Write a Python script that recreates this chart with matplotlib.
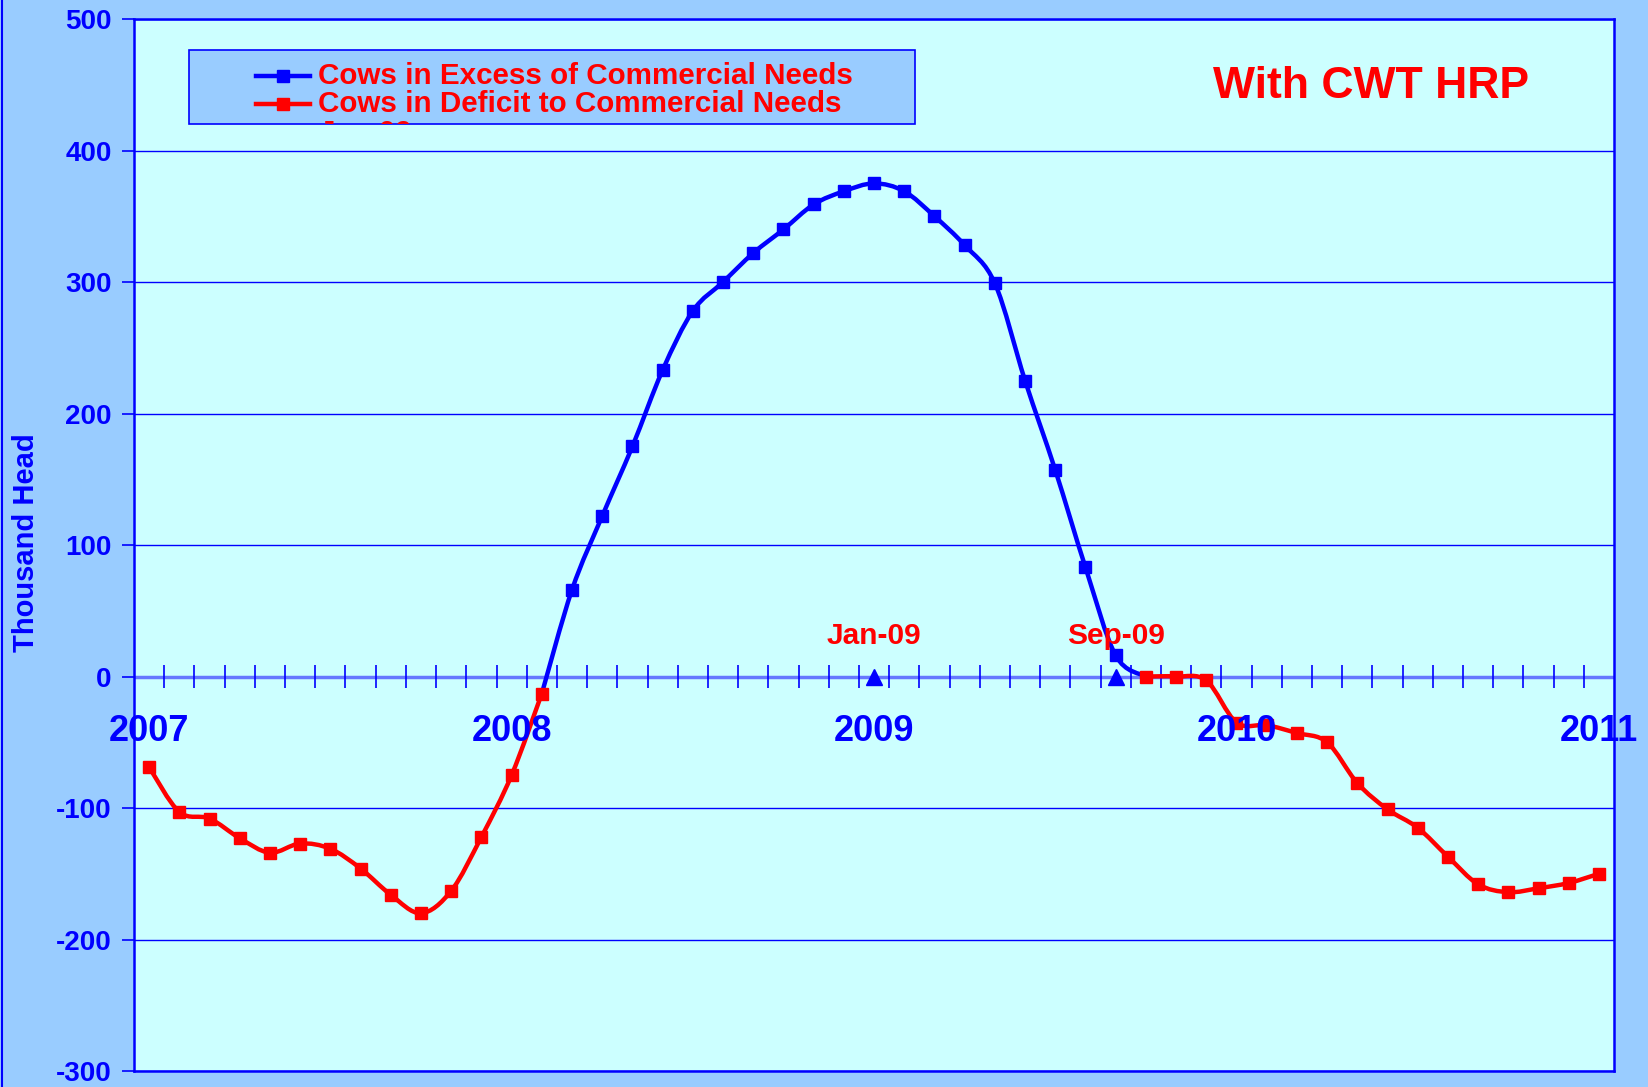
import matplotlib
matplotlib.use("Agg")
import matplotlib.pyplot as plt
from matplotlib.path import Path
from matplotlib.patches import PathPatch, Rectangle
from matplotlib.lines import Line2D
from matplotlib.transforms import Bbox, TransformedBbox
import numpy as np

plt.rcParams['font.family'] = ['Liberation Sans', 'DejaVu Sans']
plt.rcParams['font.weight'] = 'bold'
plt.rcParams['axes.unicode_minus'] = False

# monthly values, Jan-07 .. Jan-11 (thousand head)
months = list(range(49))
deficit_a = [-69, -103, -108, -123, -134, -127, -131, -146, -166, -180, -163, -122, -75, -13]
excess = [-13, 66, 122, 175, 233, 278, 300, 322, 340, 359, 369, 375, 369, 350, 328, 299,
          225, 157, 83, 16, 0]
deficit_b = [0, 0, -3, -35, -37, -43, -50, -81, -101, -115, -137, -158, -164, -161, -157, -150]
idx_a = months[0:14]
idx_ex = months[13:34]
idx_b = months[33:49]
marker_ex = months[14:33]

year_labels = ['2007', '2008', '2009', '2010', '2011']
year_pos = [0, 12, 24, 36, 48]
flag_labels = ['Jan-09', 'Sep-09']
flag_pos = [24, 32]

BLUE = '#0000FF'
RED = '#FF0000'


def smooth_path(xs, ys):
    # excel style smoothed line, bezier through every point
    xs = np.asarray(xs, float)
    ys = np.asarray(ys, float)
    n = len(xs)
    verts = [(xs[0], ys[0])]
    codes = [Path.MOVETO]
    for i in range(n - 1):
        i0 = max(i - 1, 0)
        i3 = min(i + 2, n - 1)
        c1 = (xs[i] + (xs[i + 1] - xs[i0]) / 6, ys[i] + (ys[i + 1] - ys[i0]) / 6)
        c2 = (xs[i + 1] - (xs[i3] - xs[i]) / 6, ys[i + 1] - (ys[i3] - ys[i]) / 6)
        verts += [c1, c2, (xs[i + 1], ys[i + 1])]
        codes += [Path.CURVE4] * 3
    return Path(verts, codes)


fig = plt.figure(figsize=(16.49, 10.87), dpi=100, facecolor='#99CCFF')
ax = fig.add_axes([0.0813, 0.0147, 0.8975, 0.9678])
ax.set_facecolor('#CCFFFF')

ax.set_xlim(-0.5, 48.5)
ax.set_ylim(-300, 500)
ax.set_yticks(range(-300, 501, 100))
ax.set_xticks([])
ax.grid(axis='y', color=BLUE, lw=1)
ax.tick_params(axis='y', colors=BLUE, labelsize=20, length=9, width=1.2, pad=7)
for t in ax.get_yticklabels():
    t.set_fontweight('bold')
for s in ax.spines.values():
    s.set_color(BLUE)
    s.set_linewidth(1.8)

# category axis crossing at zero
ax.axhline(0, color='#6677FF', lw=2.5, zorder=2)
ax.vlines([m + 0.5 for m in months[:-1]], -9, 9, color=BLUE, lw=1.2, zorder=2)

ax.add_patch(PathPatch(smooth_path(idx_ex, excess), fill=False, ec=BLUE, lw=3.2, zorder=3))
ax.plot(marker_ex, excess[1:-1], ls='none', marker='s', ms=8.5, color=BLUE, zorder=4)
for xs, ys in [(idx_a, deficit_a), (idx_b, deficit_b)]:
    ax.add_patch(PathPatch(smooth_path(xs, ys), fill=False, ec=RED, lw=3.2, zorder=5))
    ax.plot(xs, ys, ls='none', marker='s', ms=8.5, color=RED, zorder=6)

ax.plot(flag_pos, [0, 0], ls='none', marker='^', ms=11, color=BLUE, zorder=7)
for lab, p in zip(flag_labels, flag_pos):
    ax.text(p, 31, lab, color=RED, fontsize=21.5, fontweight='bold', ha='center', va='center')

for lab, p in zip(year_labels, year_pos):
    ax.text(p, -42, lab, color=BLUE, fontsize=26, fontweight='bold', ha='center', va='center',
            zorder=8, clip_on=False)

ax.text(0.836, 0.936, 'With CWT HRP', transform=ax.transAxes, color=RED, fontsize=32,
        fontweight='bold', ha='center', va='center')

fig.text(0.016, 0.501, 'Thousand Head', rotation=90, color=BLUE, fontsize=21,
         fontweight='bold', ha='center', va='center')

# legend box
box = Rectangle((0.037, 0.900), 0.491, 0.0705, transform=ax.transAxes, fc='#99CCFF',
                ec=BLUE, lw=1.2, zorder=9)
ax.add_patch(box)
for y, col, lab in [(0.9455, BLUE, 'Cows in Excess of Commercial Needs'),
                    (0.919, RED, 'Cows in Deficit to Commercial Needs')]:
    ax.add_line(Line2D([0.0824, 0.119], [y, y], transform=ax.transAxes, color=col, lw=3.2,
                       zorder=10))
    ax.add_line(Line2D([0.1008], [y], transform=ax.transAxes, color=col, marker='s', ms=8.5,
                       zorder=10))
    ax.text(0.1243, y, lab, transform=ax.transAxes, color=RED, fontsize=21.3, fontweight='bold',
            va='center', zorder=10)
t3 = ax.text(0.1243, 0.8915, 'Jan-09', transform=ax.transAxes, color=RED, fontsize=21.3,
             fontweight='bold', va='center', zorder=10, clip_on=True)
t3.set_clip_box(TransformedBbox(Bbox([[0.037, 0.9005], [0.528, 0.97]]), ax.transAxes))

fig.add_artist(Line2D([0.0015, 0.0015], [0, 1], transform=fig.transFigure, color=BLUE, lw=1.5))

fig.savefig('out.png', dpi=100, facecolor=fig.get_facecolor())
